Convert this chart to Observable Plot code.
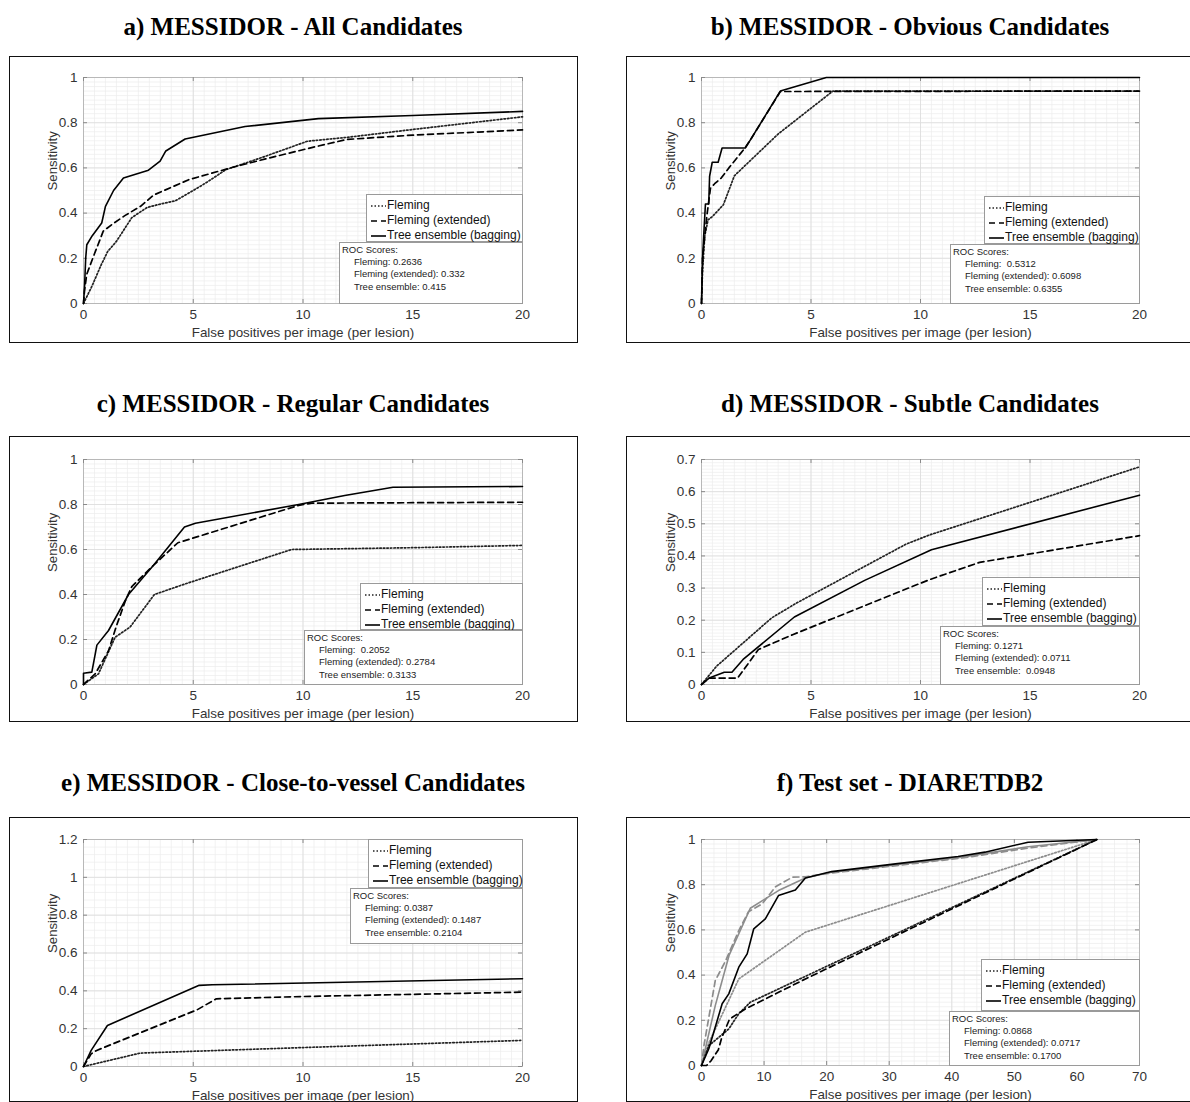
<!DOCTYPE html>
<html><head><meta charset="utf-8">
<script src="https://cdn.jsdelivr.net/npm/d3@7"></script>
<script src="https://cdn.jsdelivr.net/npm/@observablehq/plot@0.6"></script>
<style>
body{margin:0;background:#fff;}
#page{position:relative;width:1190px;height:1102px;overflow:hidden;background:#fff;font-family:"Liberation Sans",Arial,sans-serif;}
.title{position:absolute;font-family:"Liberation Serif","Times New Roman",serif;font-weight:bold;font-size:25px;line-height:26px;white-space:nowrap;transform:translateX(-50%);color:#000;}
.box{position:absolute;border:1.5px solid #111;box-sizing:border-box;}
.plotwrap{position:absolute;}
.legend{position:absolute;background:#fff;border:1px solid #9a9a9a;box-sizing:border-box;font-size:12px;color:#111;}
.legrow{position:absolute;left:4px;height:15px;line-height:15px;white-space:nowrap;}
.legrow svg{vertical-align:middle;margin-right:1px;}
.roc{position:absolute;background:#fff;border:1px solid #9a9a9a;box-sizing:border-box;font-size:9.5px;color:#222;white-space:pre;line-height:12.2px;padding:1px 0 0 2px;}
.roc .ind{padding-left:12px;}
</style></head>
<body><div id="page"></div>
<script>
// ---------- data ----------
const seriesNames = ["Fleming", "Fleming (extended)", "Tree ensemble (bagging)"];

const aFleming = [[0,0],[0.4,0.08],[0.8,0.17],[1.1,0.23],[1.5,0.275],[2.2,0.38],[2.9,0.425],[3.5,0.44],[4.2,0.455],[5.0,0.5],[5.6,0.535],[6.5,0.593],[7.4,0.622],[8.3,0.652],[10.2,0.718],[12.0,0.735],[15,0.77],[20,0.826]];
const aExtended = [[0,0],[0.05,0.06],[0.15,0.13],[0.5,0.22],[0.9,0.32],[1.3,0.35],[1.9,0.39],[2.6,0.43],[3.2,0.48],[4.8,0.548],[6.7,0.6],[8.3,0.64],[10.4,0.69],[12,0.726],[15,0.745],[20,0.768]];
const aTree = [[0,0],[0.05,0.08],[0.1,0.2],[0.15,0.26],[0.4,0.3],[0.83,0.356],[1.0,0.43],[1.37,0.5],[1.82,0.555],[2.96,0.59],[3.49,0.63],[3.75,0.675],[4.63,0.728],[7.36,0.783],[10.7,0.818],[15,0.832],[20,0.85]];
const aScores = ["Fleming: 0.2636", "Fleming (extended): 0.332", "Tree ensemble: 0.415"];

const bFleming = [[0,0],[0.05,0.15],[0.15,0.3],[0.3,0.37],[0.5,0.385],[1.0,0.437],[1.5,0.565],[3.5,0.75],[6.0,0.94],[20,0.94]];
const bExtended = [[0,0],[0.05,0.2],[0.15,0.3],[0.26,0.4],[0.41,0.51],[0.6,0.53],[0.9,0.555],[1.25,0.6],[2.0,0.69],[2.24,0.725],[3.6,0.938],[20,0.94]];
const bTree = [[0,0],[0.05,0.2],[0.1,0.3],[0.18,0.44],[0.33,0.44],[0.37,0.563],[0.49,0.625],[0.76,0.625],[0.94,0.688],[2.0,0.688],[2.24,0.725],[3.6,0.94],[5.7,1.0],[20,1.0]];
const bScores = ["Fleming:  0.5312", "Fleming (extended): 0.6098", "Tree ensemble: 0.6355"];

const cFleming = [[0,0],[0.68,0.047],[1.44,0.21],[2.12,0.255],[3.23,0.40],[4.63,0.447],[9.48,0.6],[15,0.608],[20,0.618]];
const cExtended = [[0,0],[0.53,0.047],[1.14,0.15],[1.5,0.26],[1.9,0.37],[2.2,0.435],[3.19,0.53],[4.3,0.63],[9.8,0.796],[10.4,0.806],[20,0.81]];
const cTree = [[0,0],[0,0.05],[0.38,0.055],[0.61,0.175],[1.14,0.24],[2.05,0.40],[3.19,0.53],[4.6,0.70],[5.1,0.717],[9.8,0.8],[11.9,0.84],[14.1,0.877],[20,0.88]];
const cScores = ["Fleming:  0.2052", "Fleming (extended): 0.2784", "Tree ensemble: 0.3133"];

const dFleming = [[0,0],[0.69,0.057],[3.2,0.207],[4.33,0.253],[9.35,0.437],[10.4,0.465],[20,0.677]];
const dExtended = [[0,0],[0.35,0.02],[1.65,0.02],[2.6,0.109],[4.16,0.155],[10.4,0.326],[12.7,0.38],[20,0.463]];
const dTree = [[0,0],[0.35,0.02],[1.04,0.038],[1.39,0.038],[1.9,0.078],[4.24,0.21],[7.45,0.324],[10.5,0.419],[20,0.589]];
const dScores = ["Fleming: 0.1271", "Fleming (extended): 0.0711", "Tree ensemble:  0.0948"];

const eFleming = [[0,0],[2.59,0.071],[3.1,0.073],[10,0.1],[20,0.138]];
const eExtended = [[0,0],[0.35,0.067],[0.6,0.085],[5.18,0.30],[6.05,0.358],[10,0.37],[20,0.393]];
const eTree = [[0,0],[0.35,0.085],[1.09,0.217],[5.27,0.429],[5.87,0.432],[20,0.464]];
const eScores = ["Fleming: 0.0387", "Fleming (extended): 0.1487", "Tree ensemble: 0.2104"];

const fFleming = [[0,0],[1.17,0.088],[4.36,0.162],[5.96,0.229],[7.8,0.28],[17.4,0.405],[63.2,1]];
const fExtended = [[0,0],[0.8,0],[1.5,0.02],[2.7,0.07],[3.2,0.12],[4.4,0.2],[5,0.215],[7,0.25],[16.6,0.383],[63.2,1]];
const fTree = [[0,0],[1.17,0.074],[3.3,0.273],[4.36,0.317],[5.96,0.435],[7.3,0.494],[8.35,0.605],[10.2,0.649],[12.3,0.752],[15,0.777],[16.6,0.83],[20.8,0.858],[31,0.892],[41,0.925],[45.3,0.944],[52.2,0.988],[63.2,1]];
const fFlemingGray = [[0,0],[1.17,0.10],[5.96,0.383],[16.6,0.59],[63.2,1]];
const fExtendedGray = [[0,0],[0.4,0.09],[2.2,0.376],[3.8,0.46],[5.96,0.597],[7.5,0.68],[9.7,0.715],[11.8,0.79],[14.5,0.833],[16.6,0.835],[20.3,0.85],[41.6,0.918],[52.2,0.962],[63.2,1]];
const fTreeGray = [[0,0],[2.2,0.265],[4.4,0.487],[7.8,0.696],[12.3,0.774],[16.6,0.83],[20.3,0.853],[41.6,0.922],[52.2,0.968],[63.2,1]];
const fScores = ["Fleming: 0.0868", "Fleming (extended): 0.0717", "Tree ensemble: 0.1700"];

const ticks20 = [0,5,10,15,20];
const ticks70 = [0,10,20,30,40,50,60,70];
const ticks1 = [0,0.2,0.4,0.6,0.8,1];
const ticks07 = [0,0.1,0.2,0.3,0.4,0.5,0.6,0.7];
const ticks12 = [0,0.2,0.4,0.6,0.8,1,1.2];

const titles = ["a) MESSIDOR - All Candidates","b) MESSIDOR - Obvious Candidates","c) MESSIDOR - Regular Candidates","d) MESSIDOR - Subtle Candidates","e) MESSIDOR - Close-to-vessel Candidates","f) Test set - DIARETDB2"];
const xLabel = "False positives per image (per lesion)";
const yLabel = "Sensitivity";

// ---------- styles ----------
const styles = {
  fleming: {stroke:"#222", dash:"1.5,2", width:1.7},
  ext: {stroke:"#000", dash:"6,4", width:1.7},
  tree: {stroke:"#000", dash:null, width:1.6},
  flemingG: {stroke:"#8c8c8c", dash:"1.5,2", width:1.7},
  extG: {stroke:"#8c8c8c", dash:"6,4", width:1.7},
  treeG: {stroke:"#8c8c8c", dash:null, width:1.6}
};

// ---------- layout ----------
const panels = [
  {title:titles[0], cx:293, ty:14, box:[9,56,578,343], plot:[83,522,77,303], xd:[0,20], xt:ticks20, xm:0.5, yd:[0,1], yt:ticks1, ym:0.02,
   series:[[aFleming,"fleming"],[aExtended,"ext"],[aTree,"tree"]], legend:[366,194,523,242], roc:[339,242,523,304], scores:aScores},
  {title:titles[1], cx:910, ty:14, box:[626,56,1196,343], plot:[701,1139,77,303], xd:[0,20], xt:ticks20, xm:0.5, yd:[0,1], yt:ticks1, ym:0.02,
   series:[[bFleming,"fleming"],[bExtended,"ext"],[bTree,"tree"]], legend:[984,196,1140,244], roc:[950,244,1140,304], scores:bScores},
  {title:titles[2], cx:293, ty:391, box:[9,436,578,722], plot:[83,522,459,684], xd:[0,20], xt:ticks20, xm:0.5, yd:[0,1], yt:ticks1, ym:0.02,
   series:[[cFleming,"fleming"],[cExtended,"ext"],[cTree,"tree"]], legend:[360,583,523,630], roc:[304,630,523,685], scores:cScores},
  {title:titles[3], cx:910, ty:391, box:[626,436,1196,722], plot:[701,1139,459,684], xd:[0,20], xt:ticks20, xm:0.5, yd:[0,0.7], yt:ticks07, ym:0.01,
   series:[[dFleming,"fleming"],[dExtended,"ext"],[dTree,"tree"]], legend:[982,577,1140,626], roc:[940,626,1140,685], scores:dScores},
  {title:titles[4], cx:293, ty:770, box:[9,817,578,1102], plot:[83,522,839,1066], xd:[0,20], xt:ticks20, xm:0.5, yd:[0,1.2], yt:ticks12, ym:0.04,
   series:[[eFleming,"fleming"],[eExtended,"ext"],[eTree,"tree"]], legend:[368,839,523,888], roc:[350,888,523,944], scores:eScores},
  {title:titles[5], cx:910, ty:770, box:[626,817,1196,1102], plot:[701,1139,839,1065], xd:[0,70], xt:ticks70, xm:2, yd:[0,1], yt:ticks1, ym:0.02,
   series:[[fFlemingGray,"flemingG"],[fExtendedGray,"extG"],[fTreeGray,"treeG"],[fFleming,"fleming"],[fExtended,"ext"],[fTree,"tree"]], legend:[981,959,1140,1011], roc:[949,1011,1140,1066], scores:fScores}
];

const page = document.getElementById("page");
const mL = 60, mR = 20, mT = 12, mB = 45;
const fmt = d => String(Math.round(d * 1000) / 1000);

function el(tag, cls, css) {
  const e = document.createElement(tag);
  if (cls) e.className = cls;
  Object.assign(e.style, css || {});
  return e;
}

function sampleSvg(st) {
  const ns = "http://www.w3.org/2000/svg";
  const s = document.createElementNS(ns, "svg");
  s.setAttribute("width", 15); s.setAttribute("height", 6);
  const l = document.createElementNS(ns, "line");
  l.setAttribute("x1", 0); l.setAttribute("x2", 15); l.setAttribute("y1", 3); l.setAttribute("y2", 3);
  l.setAttribute("stroke", st.stroke); l.setAttribute("stroke-width", st.width);
  if (st.dash) l.setAttribute("stroke-dasharray", st.dash === "6,4" ? "6,4,5" : st.dash);
  s.appendChild(l);
  return s;
}

for (const p of panels) {
  const t = el("div", "title", {left: p.cx + "px", top: p.ty + "px"});
  t.textContent = p.title;
  page.appendChild(t);

  const [bl, bt, br, bb] = p.box;
  page.appendChild(el("div", "box", {left: bl + "px", top: bt + "px", width: (br - bl) + "px", height: (bb - bt) + "px"}));

  const [x0, x1, yT, yB] = p.plot;
  const pw = x1 - x0, ph = yB - yT;
  const xMinor = d3.range(p.xd[0], p.xd[1] + 1e-9, p.xm);
  const yMinor = d3.range(p.yd[0], p.yd[1] + 1e-9, p.ym);

  const marks = [
    Plot.ruleX(xMinor, {x: d => d, stroke: "#ececec", strokeWidth: 0.7}),
    Plot.ruleY(yMinor, {y: d => d, stroke: "#ececec", strokeWidth: 0.7}),
    Plot.ruleX(p.xt, {x: d => d, stroke: "#dcdcdc", strokeWidth: 0.8}),
    Plot.ruleY(p.yt, {y: d => d, stroke: "#dcdcdc", strokeWidth: 0.8}),
    Plot.frame({stroke: "#b8b8b8", strokeWidth: 1}),
    Plot.tickX(p.xt, {x: d => d, insetTop: ph - 4, stroke: "#8a8a8a"}),
    Plot.tickX(p.xt, {x: d => d, insetBottom: ph - 4, stroke: "#8a8a8a"}),
    Plot.tickY(p.yt, {y: d => d, insetRight: pw - 4, stroke: "#8a8a8a"}),
    Plot.tickY(p.yt, {y: d => d, insetLeft: pw - 4, stroke: "#8a8a8a"}),
  ];
  for (const [data, key] of p.series) {
    const st = styles[key];
    marks.push(Plot.line(data, {x: d => d[0], y: d => d[1], stroke: st.stroke, strokeWidth: st.width,
      strokeDasharray: st.dash || undefined, strokeLinejoin: "round", curve: "linear"}));
  }
  marks.push(
    Plot.axisX(p.xt, {tickSize: 0, tickPadding: 6, fontSize: 13.5, color: "#333", label: null, tickFormat: fmt}),
    Plot.axisY(p.yt, {tickSize: 0, tickPadding: 6, fontSize: 13.5, color: "#333", label: null, tickFormat: fmt}),
    Plot.text([xLabel], {text: d => d, frameAnchor: "bottom", dy: 29, fontSize: 13.4, fill: "#333", lineAnchor: "middle"}),
    Plot.text([yLabel], {text: d => d, frameAnchor: "left", dx: -31, rotate: -90, fontSize: 13.2, fill: "#333", lineAnchor: "middle"})
  );

  const chart = Plot.plot({
    width: pw + mL + mR, height: ph + mT + mB,
    marginLeft: mL, marginRight: mR, marginTop: mT, marginBottom: mB,
    x: {domain: p.xd}, y: {domain: p.yd},
    style: {fontFamily: "'Liberation Sans', Arial, sans-serif", fontSize: "13px", background: "transparent", overflow: "visible"},
    marks
  });
  const wrap = el("div", "plotwrap", {left: (x0 - mL) + "px", top: (yT - mT) + "px"});
  wrap.appendChild(chart);
  page.appendChild(wrap);

  // legend
  const [ll, lt, lr, lb] = p.legend;
  const leg = el("div", "legend", {left: ll + "px", top: lt + "px", width: (lr - ll) + "px", height: (lb - lt) + "px"});
  const legKeys = ["fleming", "ext", "tree"];
  legKeys.forEach((k, i) => {
    const row = el("div", "legrow", {top: (3 + i * 15) + "px"});
    row.appendChild(sampleSvg(styles[k]));
    row.appendChild(document.createTextNode(seriesNames[i]));
    leg.appendChild(row);
  });
  page.appendChild(leg);

  // ROC score box
  const [rl, rt, rr, rb] = p.roc;
  const roc = el("div", "roc", {left: rl + "px", top: rt + "px", width: (rr - rl) + "px", height: (rb - rt) + "px"});
  const head = el("div"); head.textContent = "ROC Scores:"; roc.appendChild(head);
  for (const s of p.scores) { const r = el("div", "ind"); r.textContent = s; roc.appendChild(r); }
  page.appendChild(roc);
}
</script>
</body></html>
